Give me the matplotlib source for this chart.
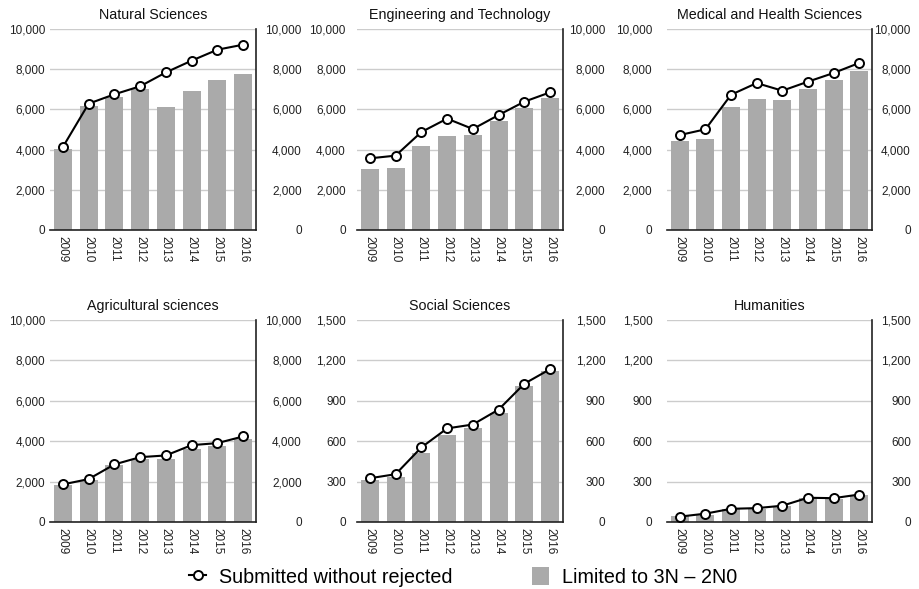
import matplotlib
matplotlib.use("Agg")
import matplotlib.pyplot as plt
from matplotlib.lines import Line2D
from matplotlib.patches import Patch

plt.rcParams['font.family'] = ['Liberation Sans', 'DejaVu Sans']

years = ['2009', '2010', '2011', '2012', '2013', '2014', '2015', '2016']

titles = ['Natural Sciences', 'Engineering and Technology', 'Medical and Health Sciences',
          'Agricultural sciences', 'Social Sciences', 'Humanities']

# bars: limited to 3N - 2N0
nat_bar = [4050, 6170, 6620, 7000, 6140, 6915, 7480, 7780]
eng_bar = [3050, 3100, 4180, 4660, 4710, 5420, 6085, 6570]
med_bar = [4410, 4510, 6135, 6520, 6485, 7000, 7445, 7910]
agr_bar = [1845, 2090, 2815, 3130, 3100, 3610, 3755, 4085]
soc_bar = [313, 335, 512, 648, 700, 813, 1010, 1121]
hum_bar = [42, 49, 96, 94, 116, 175, 172, 200]

# line: submitted without rejected
nat_line = [4130, 6285, 6750, 7150, 7840, 8425, 8970, 9220]
eng_line = [3565, 3700, 4875, 5540, 5025, 5720, 6385, 6850]
med_line = [4725, 5010, 6730, 7310, 6930, 7380, 7810, 8310]
agr_line = [1860, 2125, 2850, 3210, 3295, 3805, 3905, 4235]
soc_line = [325, 355, 554, 695, 724, 835, 1027, 1135]
hum_line = [40, 62, 98, 103, 121, 180, 177, 204]

big_ticks = [0, 2000, 4000, 6000, 8000, 10000]
small_ticks = [0, 300, 600, 900, 1200, 1500]

bars = [nat_bar, eng_bar, med_bar, agr_bar, soc_bar, hum_bar]
lines = [nat_line, eng_line, med_line, agr_line, soc_line, hum_line]
ticks = [big_ticks, big_ticks, big_ticks, big_ticks, small_ticks, small_ticks]

W, H = 920, 589
fig = plt.figure(figsize=(W / 100, H / 100), dpi=100)

# axes boxes in pixels: (left, right, top, bottom)
lefts = [50, 357, 667]
rights = [256, 563, 872]
tops = [29, 320]
bottoms = [230, 522]
left_pad = [3.5, 8, 10.5]   # points
right_pad = [33, 30.5, 28]  # points

for i in range(6):
    r, c = divmod(i, 3)
    l, rt = lefts[c], rights[c]
    t, b = tops[r], bottoms[r]
    ax = fig.add_axes([l / W, 1 - b / H, (rt - l) / W, (b - t) / H])
    x = list(range(len(years)))
    ax.bar(x, bars[i], width=0.7, color='#aaaaaa', zorder=2)
    ax.plot(x, lines[i], color='black', lw=1.5, marker='o', ms=6.5,
            mfc='white', mec='black', mew=1.4, zorder=3)
    ax.set_xlim(-0.5, len(years) - 0.5)
    ax.set_ylim(0, ticks[i][-1])
    ax.set_yticks(ticks[i], [f'{v:,}' for v in ticks[i]])
    ax.set_xticks(x, years, rotation=270)
    ax.grid(axis='y', color='#cccccc', lw=1, zorder=0)
    for s in ['left', 'top']:
        ax.spines[s].set_visible(False)
    ax.spines['bottom'].set_color('#222222')
    ax.spines['right'].set_color('#222222')
    ax.spines['bottom'].set_linewidth(1.2)
    ax.spines['right'].set_linewidth(1.2)
    ax.tick_params(axis='y', length=0, pad=left_pad[c], labelsize=8.5, colors='#222222')
    ax.tick_params(axis='x', length=0, pad=4, labelsize=8.5, colors='#222222')
    ax.set_title(titles[i], fontsize=10.3, pad=7, color='#111111')

    ax2 = ax.twinx()
    ax2.set_ylim(0, ticks[i][-1])
    ax2.set_yticks(ticks[i], [f'{v:,}' for v in ticks[i]])
    for s in ['left', 'top', 'bottom', 'right']:
        ax2.spines[s].set_visible(False)
    ax2.tick_params(axis='y', length=0, pad=right_pad[c], labelsize=8.5, colors='#222222')
    plt.setp(ax2.get_yticklabels(), ha='right')

handles = [Line2D([0], [0], color='black', lw=1.5, marker='o', ms=6.5,
                  mfc='white', mec='black', mew=1.4),
           Patch(facecolor='#aaaaaa', edgecolor='none')]
labels = ['Submitted without rejected', 'Limited to 3N \u2013 2N0']
fig.legend(handles, labels, loc='center', bbox_to_anchor=(463 / W, 1 - 577 / H),
           ncol=2, frameon=False, fontsize=14.2, handlelength=0.87,
           handleheight=1.0, handletextpad=0.66, columnspacing=4.0,
           borderpad=0, borderaxespad=0)

fig.savefig('out.png', dpi=100)
